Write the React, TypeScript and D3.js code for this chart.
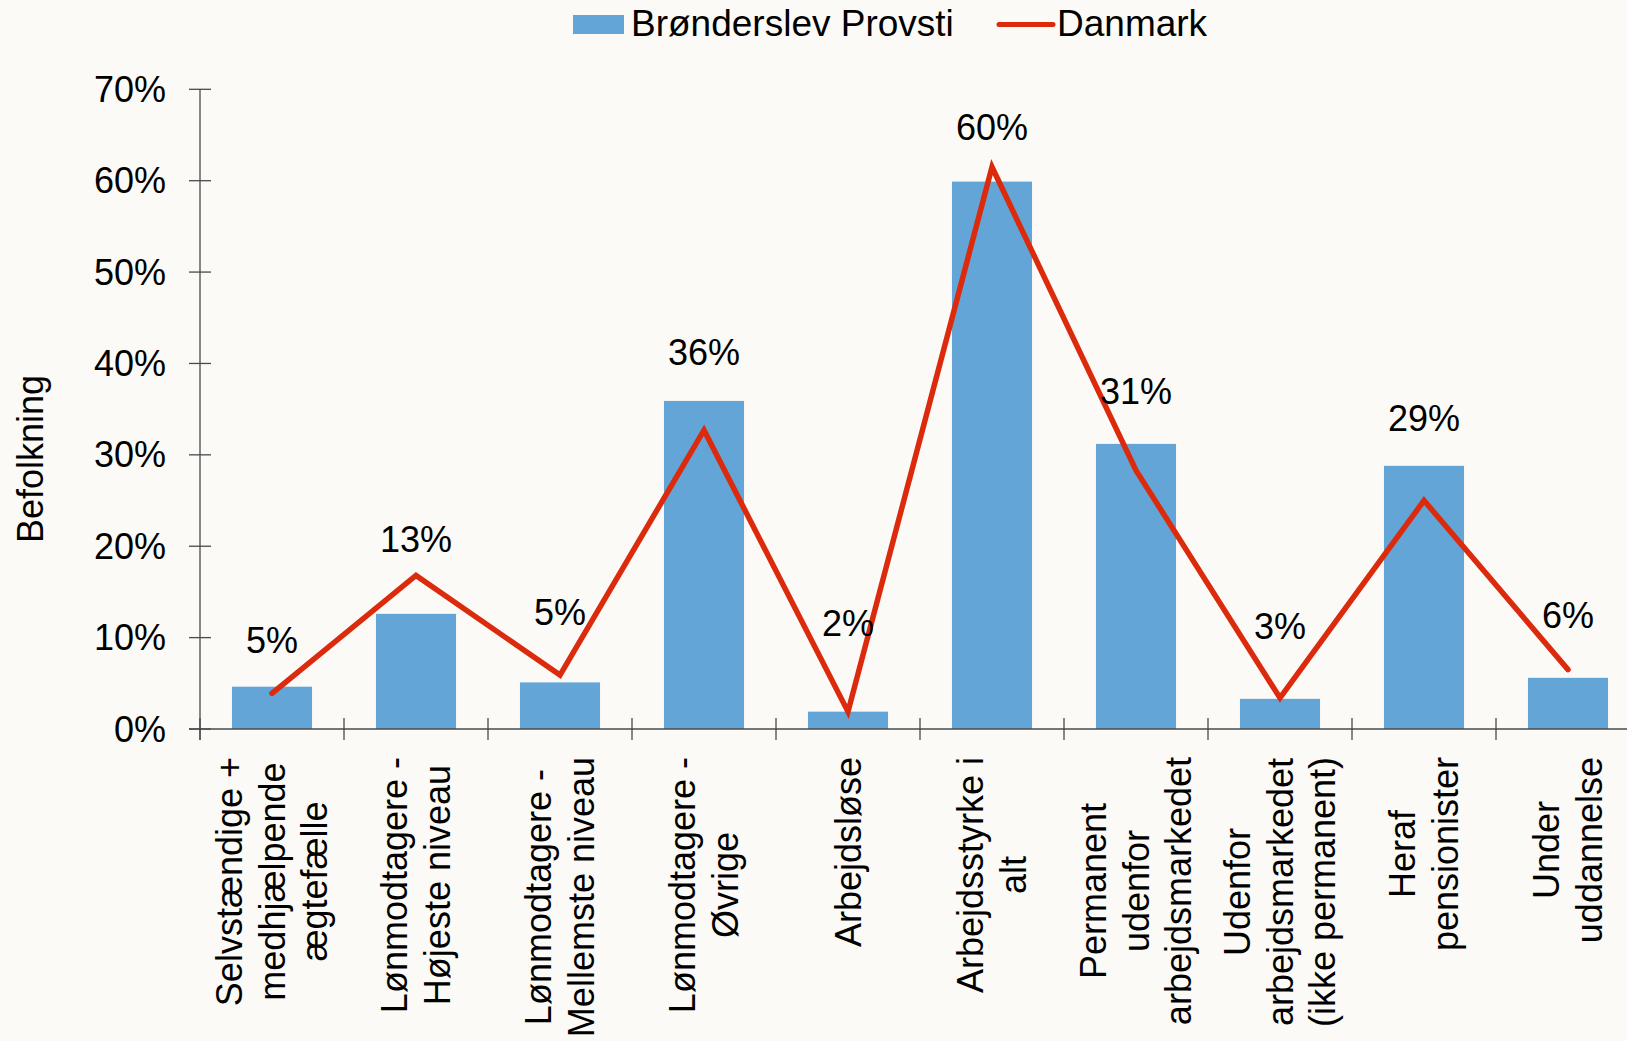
import * as d3 from 'd3'

const categories = [
  'Selvstændige + medhjælpende ægtefælle',
  'Lønmodtagere - Højeste niveau',
  'Lønmodtagere - Mellemste niveau',
  'Lønmodtagere - Øvrige',
  'Arbejdsløse',
  'Arbejdsstyrke i alt',
  'Permanent udenfor arbejdsmarkedet',
  'Udenfor arbejdsmarkedet (ikke permanent)',
  'Heraf pensionister',
  'Under uddannelse',
]

// how each category label is broken into lines in the picture
const categoryLines = [
  ['Selvstændige +', 'medhjælpende', 'ægtefælle'],
  ['Lønmodtagere -', 'Højeste niveau'],
  ['Lønmodtagere -', 'Mellemste niveau'],
  ['Lønmodtagere -', 'Øvrige'],
  ['Arbejdsløse'],
  ['Arbejdsstyrke i', 'alt'],
  ['Permanent', 'udenfor', 'arbejdsmarkedet'],
  ['Udenfor', 'arbejdsmarkedet', '(ikke permanent)'],
  ['Heraf', 'pensionister'],
  ['Under', 'uddannelse'],
]

const provstiValues = [0.0463, 0.126, 0.051, 0.359, 0.019, 0.599, 0.312, 0.033, 0.288, 0.056]
const danmarkValues = [0.039, 0.168, 0.059, 0.327, 0.019, 0.615, 0.283, 0.034, 0.25, 0.065]
// data labels were moved by hand in the original, this is where their baseline sits (axis units)
const labelAt = [0.0835, 0.194, 0.114, 0.398, 0.102, 0.644, 0.356, 0.0985, 0.326, 0.1105]
const yTicks = [0, 0.1, 0.2, 0.3, 0.4, 0.5, 0.6, 0.7]

const seriesNames = ['Brønderslev Provsti', 'Danmark']

const width = 1627
const height = 1041
const margin = { top: 89.3, right: -13, bottom: 312, left: 200 }
const FONT = '"Liberation Sans", Arial, Helvetica, sans-serif'
const fontSize = 36
const legendFontSize = 37
const barColor = '#64a5d7'
const lineColor = '#dc2a0c'
const axisColor = '#4a4a4a'
const bg = '#fbfaf6'

const measure = (() => {
  const ctx = document.createElement('canvas').getContext('2d')
  return (s: string) => {
    if (!ctx) return s.length * fontSize * 0.5
    ctx.font = `${fontSize}px ${FONT}`
    return ctx.measureText(s).width
  }
})()

const App = () => {
  const x = d3
    .scaleBand<string>()
    .domain(categories)
    .range([margin.left, width - margin.right])
    .paddingInner(0.444)
    .paddingOuter(0.222)

  const y = d3
    .scaleLinear()
    .domain([0, 0.7])
    .range([height - margin.bottom, margin.top])

  const fmt = d3.format('.0%')
  const step = x.step()
  const bw = x.bandwidth()
  const cx = (c: string) => (x(c) as number) + bw / 2
  const y0 = y(0)

  const line = d3
    .line<number>()
    .x((_, i) => cx(categories[i]))
    .y(d => y(d))

  const boundaries = categories.map(c => (x(c) as number) - (step - bw) / 2)
  boundaries.push(boundaries[boundaries.length - 1] + step)

  const lineGap = 42.5
  const labelTop = y0 + 28

  return (
    <>
      <style>{`body{margin:0;background:${bg}}`}</style>
      <svg
        width={width}
        height={height}
        style={{ display: 'block', background: bg, fontFamily: FONT }}
      >
        <rect width={width} height={height} fill={bg} />

        {/* legend */}
        <g fontSize={legendFontSize} fill="#000">
          <rect x={573} y={15} width={51} height={19} fill={barColor} />
          <text x={631} y={36}>{seriesNames[0]}</text>
          <line
            x1={999}
            x2={1053}
            y1={24.5}
            y2={24.5}
            stroke={lineColor}
            strokeWidth={5}
            strokeLinecap="round"
          />
          <text x={1057} y={36}>{seriesNames[1]}</text>
        </g>

        {/* bars */}
        {provstiValues.map((v, i) => (
          <rect
            key={i}
            x={x(categories[i])}
            y={y(v)}
            width={bw}
            height={y0 - y(v)}
            fill={barColor}
          />
        ))}

        {/* y axis */}
        <line
          x1={margin.left}
          x2={margin.left}
          y1={y(0.7)}
          y2={y0 + 11}
          stroke={axisColor}
          strokeWidth={1.3}
        />
        {yTicks.map(t => (
          <g key={t}>
            <line
              x1={margin.left - 11}
              x2={margin.left + 11}
              y1={y(t)}
              y2={y(t)}
              stroke={axisColor}
              strokeWidth={1.3}
            />
            <text
              x={margin.left - 34}
              y={y(t)}
              dy="0.35em"
              textAnchor="end"
              fontSize={fontSize}
            >
              {fmt(t)}
            </text>
          </g>
        ))}

        {/* x axis */}
        <line
          x1={margin.left - 11}
          x2={width}
          y1={y0}
          y2={y0}
          stroke={axisColor}
          strokeWidth={1.3}
        />
        {boundaries.map((b, i) => (
          <line
            key={i}
            x1={b}
            x2={b}
            y1={y0 - 11}
            y2={y0 + 11}
            stroke={axisColor}
            strokeWidth={1.3}
          />
        ))}

        {/* Danmark line */}
        <path
          d={line(danmarkValues) || ''}
          fill="none"
          stroke={lineColor}
          strokeWidth={5.5}
          strokeLinejoin="miter"
          strokeLinecap="round"
        />

        {/* data labels */}
        {provstiValues.map((v, i) => (
          <text
            key={i}
            x={cx(categories[i])}
            y={y(labelAt[i])}
            textAnchor="middle"
            fontSize={fontSize}
          >
            {fmt(v)}
          </text>
        ))}

        {/* category labels, rotated */}
        {categoryLines.map((lines, i) => {
          const maxLen = d3.max(lines, s => measure(s)) || 0
          const midY = labelTop + maxLen / 2
          return (
            <g key={i}>
              {lines.map((s, j) => {
                const lx = cx(categories[i]) + (j - (lines.length - 1) / 2) * lineGap
                return (
                  <text
                    key={j}
                    transform={`translate(${lx},${midY}) rotate(-90)`}
                    textAnchor="middle"
                    dy="0.35em"
                    fontSize={fontSize}
                  >
                    {s}
                  </text>
                )
              })}
            </g>
          )
        })}

        {/* y title */}
        <text
          transform={`translate(43,459) rotate(-90)`}
          textAnchor="middle"
          fontSize={fontSize}
        >
          Befolkning
        </text>
      </svg>
    </>
  )
}

export default App
